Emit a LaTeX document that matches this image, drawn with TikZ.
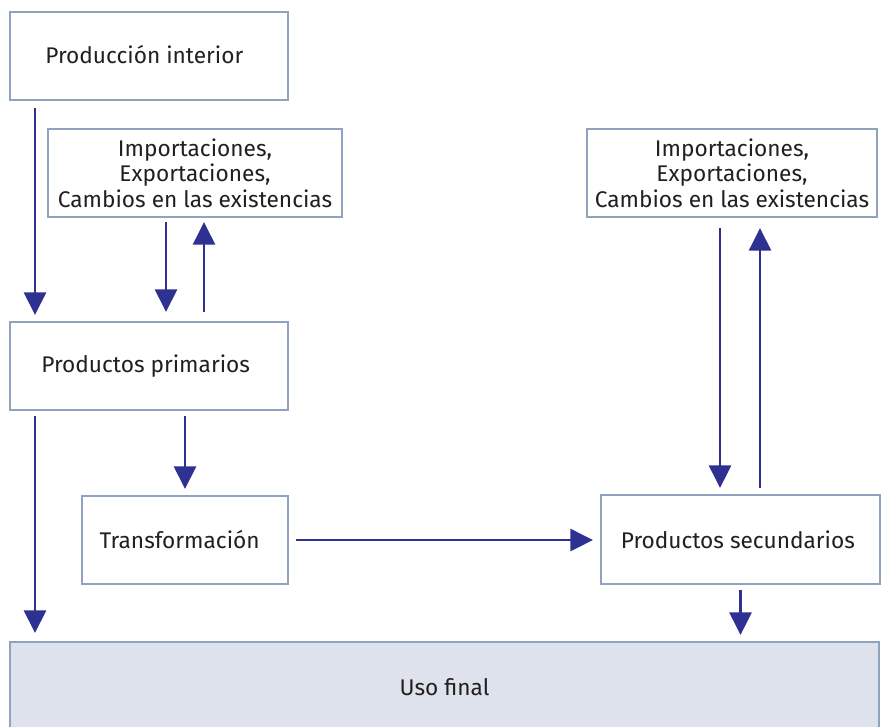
\documentclass[tikz,border=0pt]{standalone}
\usepackage{fontspec}
\setmainfont{Fira Sans}
\usetikzlibrary{arrows.meta,calc}
\definecolor{arrblue}{HTML}{2E3192}
\definecolor{boxline}{HTML}{8FA2BE}
\definecolor{usofill}{HTML}{DEE2EC}
\definecolor{txt}{HTML}{231F20}
\tikzset{
  x=0.75pt, y=-0.75pt,
  box/.style={draw=boxline, line width=2pt, fill=white, inner sep=0pt, outer sep=0pt, align=center,
    text=txt, font=\fontsize{17}{19.1}\selectfont},
  arr/.style={draw=arrblue, line width=2pt, -{Triangle[length=17pt,width=16.5pt]}},
}
\begin{document}
\begin{tikzpicture}
\useasboundingbox (0,0) rectangle (884,726);
\node[box, minimum width=208.5pt, minimum height=66pt] (prod) at (149,56) {\raisebox{2pt}{Producción interior}\hspace*{7pt}};
\node[box, minimum width=220.5pt, minimum height=66pt] (impL) at (195,173) {Importaciones,\\Exportaciones,\\Cambios en las existencias};
\node[box, minimum width=217.5pt, minimum height=66pt] (impR) at (732,173) {Importaciones,\\Exportaciones,\\Cambios en las existencias};
\node[box, minimum width=208.5pt, minimum height=66pt] (prim) at (149,366) {\raisebox{1.5pt}{Productos primarios}\hspace*{5pt}};
\node[box, minimum width=154.5pt, minimum height=66pt] (transf) at (185,540) {Transformación\hspace*{8pt}};
\node[box, minimum width=209.25pt, minimum height=66.75pt] (sec) at (740.5,539.5) {Productos secundarios\hspace*{4pt}};
\node[box, fill=usofill, minimum width=651.75pt, minimum height=67.5pt] (uso) at (444.5,687) {Uso final};

\draw[arr, shorten <=6pt, shorten >=5.25pt] ([xshift=18.75pt]prod.south west) -- ([xshift=18.75pt]prim.north west);
\draw[arr, shorten <=3.75pt, shorten >=7.5pt] ([xshift=88.5pt]impL.south west) -- ([xshift=117pt]prim.north west);
\draw[arr, shorten <=7.5pt, shorten >=3.75pt] ([xshift=145.5pt]prim.north west) -- ([xshift=117pt]impL.south west);
\draw[arr, shorten <=4.5pt, shorten >=6.75pt] ([xshift=18.75pt]prim.south west) -- ([xshift=18.75pt]uso.north west);
\draw[arr, shorten <=4.5pt, shorten >=5.25pt] ([xshift=131.25pt]prim.south west) -- (transf.north);
\draw[arr, shorten <=6pt, shorten >=6pt] (transf.east) -- (transf.east -| sec.west);
\draw[arr, shorten <=8.25pt, shorten >=5.25pt] ([xshift=99.75pt]impR.south west) -- ([xshift=89.25pt]sec.north west);
\draw[arr, shorten <=5.25pt, shorten >=8.25pt] ([xshift=119.25pt]sec.north west) -- ([xshift=129.75pt]impR.south west);
\draw[arr, shorten <=4.5pt, shorten >=5.25pt] (sec.south) -- (sec.south |- uso.north);
\end{tikzpicture}
\end{document}
